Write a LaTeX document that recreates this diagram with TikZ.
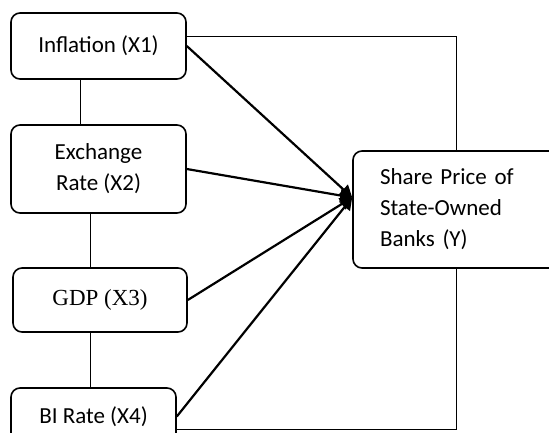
\documentclass[tikz,border=0pt]{standalone}
\usepackage{fontspec}
\setmainfont{Carlito}
\newfontfamily\gdpfont{Liberation Serif}
\usetikzlibrary{arrows.meta}

\begin{document}
\begin{tikzpicture}[x=1pt,y=-1pt,
  var/.style={draw,line width=1.6pt,rounded corners=9pt,align=center,inner sep=0pt,
    font=\fontsize{23}{31}\selectfont},
  link/.style={line width=1pt},
  effect/.style={line width=2.2pt,-{Triangle[length=12pt,width=13pt]}}]
\clip (0,0) rectangle (549,432);
\node[var,minimum width=175pt,minimum height=66pt] (x1) at (98.5,46) {Inflation (X1)};
\node[var,minimum width=175pt,minimum height=88pt] (x2) at (98.5,169) {Exchange\\Rate (X2)};
\node[var,minimum width=174pt,minimum height=64pt] (x3) at (100,300) {\gdpfont GDP (X3)};
\node[var,minimum width=165pt,minimum height=57pt] (x4) at (93.5,416.5) {BI Rate (X4)};
\node[var,align=left,text width=152pt,inner xsep=27pt,minimum height=117pt] (y) at (456,209.5)
  {Share Price of\\State-Owned\\Banks (Y)};
\coordinate (tip) at ([yshift=12pt]y.west);

\draw[link] ([xshift=-18pt]x1.south) -- ([xshift=-18pt]x2.north);
\draw[link] ([xshift=-8pt]x2.south) -- ([xshift=-8pt]x2.south |- x3.north);
\draw[link] ([xshift=-10pt]x3.south) -- ([xshift=-10pt]x3.south |- x4.north);
\draw[link] ([yshift=10pt]x1.east) -| (y.north);
\draw[link] ([yshift=-13pt]x4.east) -| (y.south);

\foreach \v in {x1,x2,x3,x4}
  \draw[effect] (\v.east) -- (tip);
\end{tikzpicture}
\end{document}
